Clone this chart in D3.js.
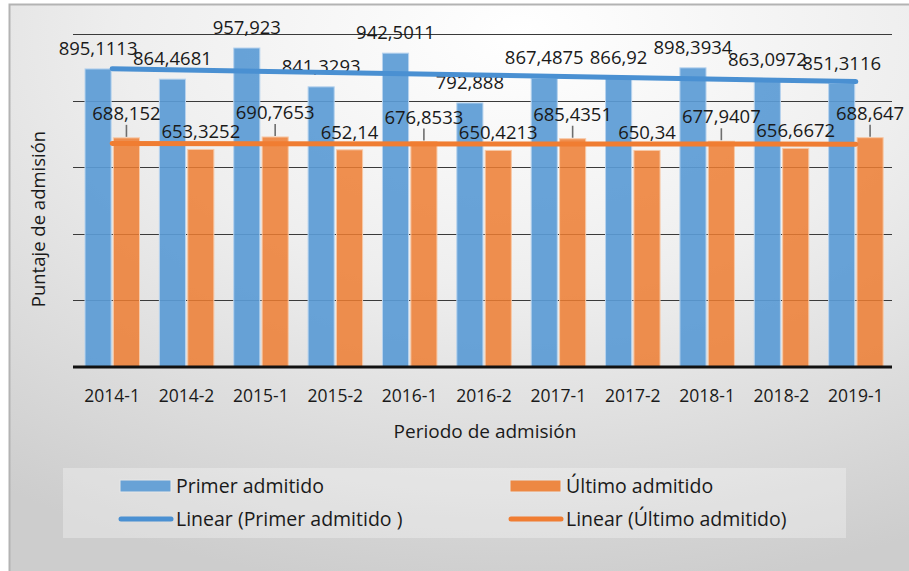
<!DOCTYPE html>
<html>
<head>
<meta charset="utf-8">
<script src="https://cdn.jsdelivr.net/npm/d3@7"></script>
<style>
  html, body { margin: 0; padding: 0; background: #fff; }
  svg { display: block; font-family: "Open Sans", "Noto Sans", sans-serif; }
</style>
</head>
<body>
<div id="chart"></div>
<script>
const categories = ["2014-1", "2014-2", "2015-1", "2015-2", "2016-1", "2016-2", "2017-1", "2017-2", "2018-1", "2018-2", "2019-1"];
const primerValues = [895.1113, 864.4681, 957.923, 841.3293, 942.5011, 792.888, 867.4875, 866.92, 898.3934, 863.0972, 851.3116];
const ultimoValues = [688.152, 653.3252, 690.7653, 652.14, 676.8533, 650.4213, 685.4351, 650.34, 677.9407, 656.6672, 688.647];
const primerLabels = ["895,1113", "864,4681", "957,923", "841,3293", "942,5011", "792,888", "867,4875", "866,92", "898,3934", "863,0972", "851,3116"];
const ultimoLabels = ["688,152", "653,3252", "690,7653", "652,14", "676,8533", "650,4213", "685,4351", "650,34", "677,9407", "656,6672", "688,647"];
const yTicks = [0, 200, 400, 600, 800, 1000];

const W = 909, H = 571;
const blue = "#5b9bd5", orange = "#ed7d31";
const blueLine = "#4a90d2", orangeLine = "#f07d32";

const svg = d3.select("#chart").append("svg").attr("width", W).attr("height", H);

// background gradient
const defs = svg.append("defs");
const grad = defs.append("radialGradient").attr("id", "bg")
  .attr("cx", "55%").attr("cy", "5%").attr("r", "95%");
grad.append("stop").attr("offset", "0%").attr("stop-color", "#ffffff");
grad.append("stop").attr("offset", "45%").attr("stop-color", "#eeeeee");
grad.append("stop").attr("offset", "100%").attr("stop-color", "#cdcdcd");

svg.append("rect").attr("width", W).attr("height", H).attr("fill", "#fff");
svg.append("rect").attr("x", 9.5).attr("y", 4.5).attr("width", W + 20).attr("height", H + 20)
  .attr("fill", "url(#bg)").attr("stroke", "#b3b3b3").attr("stroke-width", 2);

const plotLeft = 73, plotRight = 892;
const x = d3.scaleBand().domain(categories).range([75, 893]).padding(0);
const xs = d3.scaleBand().domain(["primer", "ultimo"]).range([10, 64.5]).paddingInner(0.08);
const y = d3.scaleLinear().domain([0, 1000]).range([367, 34]);
const cx = c => x(c) + x.bandwidth() / 2;

// gridlines
svg.append("g").selectAll("line").data(yTicks.filter(t => t > 0)).join("line")
  .attr("x1", plotLeft).attr("x2", plotRight)
  .attr("y1", d => Math.round(y(d)) + 0.5).attr("y2", d => Math.round(y(d)) + 0.5)
  .attr("stroke", "#3a3a3a").attr("stroke-width", 1);

// bars
const groups = svg.append("g").selectAll("g").data(categories).join("g")
  .attr("transform", d => `translate(${x(d)},0)`);
groups.append("rect")
  .attr("x", xs("primer")).attr("width", xs.bandwidth())
  .attr("y", (d, i) => y(primerValues[i])).attr("height", (d, i) => y(0) - y(primerValues[i]))
  .attr("fill", blue).attr("fill-opacity", 0.92)
  .attr("stroke", "#b7d3ee").attr("stroke-width", 1);
groups.append("rect")
  .attr("x", xs("ultimo")).attr("width", xs.bandwidth())
  .attr("y", (d, i) => y(ultimoValues[i])).attr("height", (d, i) => y(0) - y(ultimoValues[i]))
  .attr("fill", orange).attr("fill-opacity", 0.85)
  .attr("stroke", "#f7c8a6").attr("stroke-width", 1);

// axis baseline
svg.append("line").attr("x1", plotLeft).attr("x2", plotRight).attr("y1", y(0)).attr("y2", y(0))
  .attr("stroke", "#111").attr("stroke-width", 3);

// linear trends (least squares over the category index)
function trend(vals) {
  const n = vals.length, xm = (n - 1) / 2, ym = d3.mean(vals);
  let sxy = 0, sxx = 0;
  vals.forEach((v, i) => { sxy += (i - xm) * (v - ym); sxx += (i - xm) * (i - xm); });
  const b = sxy / sxx;
  return i => ym + b * (i - xm);
}
const primerTrend = trend(primerValues);
const ultimoTrend = trend(ultimoValues);

// data labels
const labels = svg.append("g").attr("font-size", 18.5).attr("fill", "#1a1a1a").attr("text-anchor", "middle");
categories.forEach((c, i) => {
  const bx = x(c) + xs("primer") + xs.bandwidth() / 2;
  labels.append("text").attr("x", bx).attr("y", y(primerValues[i]) - 14).text(primerLabels[i]);

  const ox = x(c) + xs("ultimo") + xs.bandwidth() / 2;
  const top = y(ultimoValues[i]);
  if (ultimoValues[i] > ultimoTrend(i)) {
    const ly = top - 18;
    labels.append("text").attr("x", ox).attr("y", ly).text(ultimoLabels[i]);
    if (ultimoValues[i] - ultimoTrend(i) > 5) {
      svg.append("line").attr("x1", ox).attr("x2", ox).attr("y1", ly + 5).attr("y2", top - 1)
        .attr("stroke", "#6e6e6e").attr("stroke-width", 1.6);
    }
  } else {
    labels.append("text").attr("x", ox).attr("y", top - 11).text(ultimoLabels[i]);
  }
});

// trend lines on top
const first = 0, last = categories.length - 1;
[[primerTrend, blueLine], [ultimoTrend, orangeLine]].forEach(([f, col]) => {
  svg.append("line")
    .attr("x1", cx(categories[first])).attr("y1", y(f(first)))
    .attr("x2", cx(categories[last])).attr("y2", y(f(last)))
    .attr("stroke", col).attr("stroke-width", 5).attr("stroke-linecap", "round");
});

// x tick labels
svg.append("g").selectAll("text").data(categories).join("text")
  .attr("x", d => cx(d)).attr("y", 402).attr("text-anchor", "middle")
  .attr("font-size", 17.5).attr("fill", "#1a1a1a").text(d => d);

// axis titles
svg.append("text").attr("x", 485).attr("y", 438).attr("text-anchor", "middle")
  .attr("font-size", 19).attr("fill", "#1a1a1a").text("Periodo de admisión");
svg.append("text").attr("transform", "translate(45,219) rotate(-90)").attr("text-anchor", "middle")
  .attr("font-size", 18.5).attr("fill", "#1a1a1a").text("Puntaje de admisión");

// legend
const lg = svg.append("g");
lg.append("rect").attr("x", 63).attr("y", 468).attr("width", 783).attr("height", 70)
  .attr("fill", "#ffffff").attr("fill-opacity", 0.3);
const legendItems = [
  { label: "Primer admitido", color: blue, type: "rect", lx: 119, ly: 486 },
  { label: "Último admitido", color: orange, type: "rect", lx: 509, ly: 486 },
  { label: "Linear (Primer admitido )", color: blueLine, type: "line", lx: 119, ly: 519 },
  { label: "Linear (Último admitido)", color: orangeLine, type: "line", lx: 509, ly: 519 }
];
legendItems.forEach(it => {
  if (it.type === "rect") {
    lg.append("rect").attr("x", it.lx + 1).attr("y", it.ly - 6).attr("width", 51).attr("height", 12)
      .attr("fill", it.color).attr("fill-opacity", 0.9).attr("stroke", "#e8e8e8").attr("stroke-width", 1);
  } else {
    lg.append("line").attr("x1", it.lx + 2).attr("x2", it.lx + 52).attr("y1", it.ly).attr("y2", it.ly)
      .attr("stroke", it.color).attr("stroke-width", 5).attr("stroke-linecap", "round");
  }
  lg.append("text").attr("x", it.lx + 57).attr("y", it.ly + 7).attr("font-size", 19.5)
    .attr("fill", "#1a1a1a").text(it.label);
});
</script>
</body>
</html>
